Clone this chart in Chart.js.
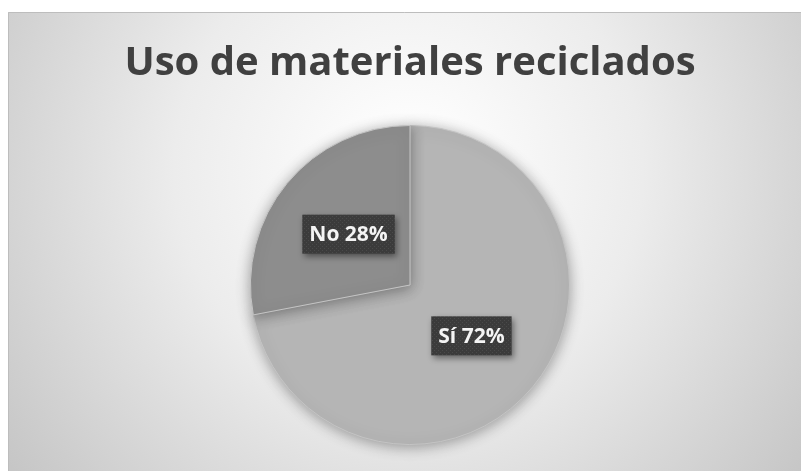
<!DOCTYPE html>
<html>
<head>
<meta charset="utf-8">
<script src="https://cdn.jsdelivr.net/npm/chart.js@4.4.1/dist/chart.umd.min.js"></script>
<style>
  html, body { margin: 0; padding: 0; background: #ffffff; }
  #wrap { width: 801px; height: 471px; }
</style>
</head>
<body>
<div id="wrap"><canvas id="pieChart" width="801" height="471"></canvas></div>
<script>
// chart data
var chartTitle = "Uso de materiales reciclados";
var categories = ["Sí", "No"];
var percentages = [72, 28];
var sliceColors = ["#b5b5b5", "#8d8d8d"];

// background: white margin, then a soft radial gray fill
var backgroundPlugin = {
  id: "backgroundPlugin",
  beforeDraw: function(chart) {
    var ctx = chart.ctx;
    var w = chart.width;
    var h = chart.height;
    ctx.save();
    ctx.fillStyle = "#ffffff";
    ctx.fillRect(0, 0, w, h);
    var grad = ctx.createRadialGradient(w * 0.51, h * 0.36, 20, w * 0.51, h * 0.36, w * 0.62);
    grad.addColorStop(0, "#ffffff");
    grad.addColorStop(0.45, "#ececec");
    grad.addColorStop(1, "#c6c6c6");
    ctx.fillStyle = grad;
    ctx.fillRect(8, 12, w - 8, h - 12);
    ctx.strokeStyle = "#bdbdbd";
    ctx.lineWidth = 1;
    ctx.beginPath();
    ctx.moveTo(8.5, h);
    ctx.lineTo(8.5, 12.5);
    ctx.lineTo(w, 12.5);
    ctx.stroke();
    ctx.restore();
  },
  beforeDatasetsDraw: function(chart) {
    var ctx = chart.ctx;
    ctx.save();
    ctx.shadowColor = "rgba(0,0,0,0.35)";
    ctx.shadowBlur = 14;
    ctx.shadowOffsetY = 2;
  },
  afterDatasetsDraw: function(chart) {
    chart.ctx.restore();
  }
};

// small dotted fill for the label boxes
function makeDotPattern(ctx) {
  var p = document.createElement("canvas");
  p.width = 4;
  p.height = 4;
  var pc = p.getContext("2d");
  pc.fillStyle = "#3b3b3b";
  pc.fillRect(0, 0, 4, 4);
  pc.fillStyle = "#4a4a4a";
  pc.fillRect(0, 0, 1, 1);
  pc.fillRect(2, 2, 1, 1);
  return ctx.createPattern(p, "repeat");
}

// data labels: dark box with "category pct%" at each slice centroid
var labelPlugin = {
  id: "labelPlugin",
  afterDraw: function(chart) {
    var ctx = chart.ctx;
    var meta = chart.getDatasetMeta(0);
    var pattern = makeDotPattern(ctx);
    ctx.save();
    ctx.font = "bold 21px 'Open Sans', sans-serif";
    ctx.textAlign = "center";
    ctx.textBaseline = "middle";
    for (var i = 0; i < meta.data.length; i++) {
      var pos = meta.data[i].tooltipPosition();
      var txt = categories[i] + " " + percentages[i] + "%";
      var tw = ctx.measureText(txt).width;
      var bw = tw + 14;
      var bh = 39;
      ctx.save();
      ctx.shadowColor = "rgba(0,0,0,0.45)";
      ctx.shadowBlur = 6;
      ctx.shadowOffsetX = 2;
      ctx.shadowOffsetY = 3;
      ctx.fillStyle = pattern;
      ctx.fillRect(pos.x - bw / 2, pos.y - bh / 2, bw, bh);
      ctx.restore();
      ctx.fillStyle = "#f4f4f4";
      ctx.fillText(txt, pos.x, pos.y + 1);
    }
    ctx.restore();
  }
};

var pieConfig = {
  type: "pie",
  data: {
    labels: categories,
    datasets: [{
      data: percentages,
      backgroundColor: sliceColors,
      borderColor: "#c4c4c4",
      borderWidth: 1
    }]
  },
  options: {
    responsive: false,
    animation: false,
    layout: {
      // chart area 782x320, pie centred at x=410
      padding: { top: 0, left: 19, right: 0, bottom: 26 }
    },
    plugins: {
      legend: { display: false },
      tooltip: { enabled: false },
      title: {
        display: true,
        text: chartTitle,
        color: "#404040",
        font: { family: "'Open Sans', sans-serif", size: 40, weight: "bold", lineHeight: 1.2 },
        padding: { top: 40, bottom: 37 }
      }
    }
  },
  plugins: [backgroundPlugin, labelPlugin]
};

var pieChart = new Chart(document.getElementById("pieChart"), pieConfig);
</script>
</body>
</html>
